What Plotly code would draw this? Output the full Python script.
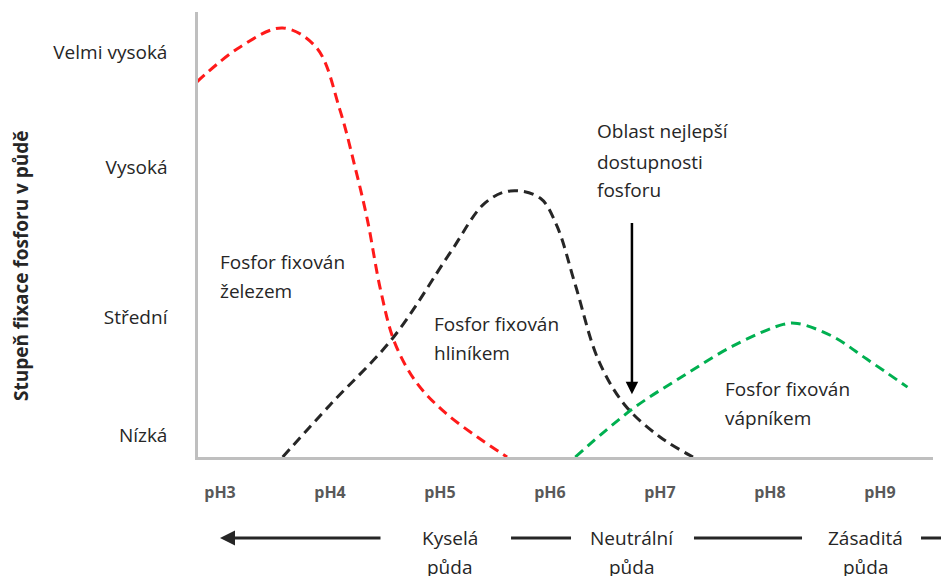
import plotly.graph_objects as go

# pH (x) and fixation level 0-100 (y)
iron_ph = [2.79, 3.18, 3.57, 3.88, 4.09, 4.23, 4.34, 4.46, 4.59, 4.79, 5.05, 5.34, 5.61]
iron_fix = [84.3, 92.1, 96.4, 91.9, 78.0, 64.9, 53.3, 37.5, 25.6, 16.6, 9.9, 4.5, 0.0]

alum_ph = [3.57, 4.00, 4.57, 5.09, 5.41, 5.64, 5.91, 6.06, 6.23, 6.44, 6.68, 7.00, 7.30]
alum_fix = [0.0, 11.7, 26.7, 45.8, 57.1, 59.8, 58.2, 52.1, 38.7, 21.8, 11.7, 4.5, 0.0]

calc_ph = [6.23, 6.75, 7.21, 7.66, 8.12, 8.25, 8.57, 8.88, 9.25]
calc_fix = [0.0, 10.8, 18.2, 24.9, 29.8, 30.0, 27.1, 22.0, 15.7]

ph_ticks = [3, 4, 5, 6, 7, 8, 9]
ph_labels = ["pH3", "pH4", "pH5", "pH6", "pH7", "pH8", "pH9"]

level_ticks = [4.9, 31.4, 65.0, 91.0]
level_labels = ["Nízká", "Střední", "Vysoká", "Velmi vysoká"]

# best availability arrow (pH, from level, to level)
best_ph = 6.745
best_from = 52.9
best_to = 14.1

FONT = "Open Sans"
TXT = "#262626"

fig = go.Figure()

for xs, ys, col in [(iron_ph, iron_fix, "#ff1a1a"),
                    (alum_ph, alum_fix, "#262626"),
                    (calc_ph, calc_fix, "#00b050")]:
    fig.add_trace(go.Scatter(
        x=xs, y=ys, mode="lines",
        line=dict(color=col, width=3, dash="10px,6px", shape="spline", smoothing=1.0),
        showlegend=False, hoverinfo="skip",
    ))

annotations = []

# labels inside the plot, one annotation per line to get the wide line spacing
inner_labels = [
    (2.982, 43.9, "Fosfor fixován"), (2.982, 37.2, "železem"),
    (4.927, 29.8, "Fosfor fixován"), (4.927, 23.3, "hliníkem"),
    (6.409, 73.3, "Oblast nejlepší"), (6.409, 66.4, "dostupnosti"), (6.409, 60.1, "fosforu"),
    (7.573, 15.2, "Fosfor fixován"), (7.573, 8.7, "vápníkem"),
]
for x, y, t in inner_labels:
    annotations.append(dict(x=x, y=y, xref="x", yref="y", text=t, showarrow=False,
                            xanchor="left", yanchor="middle",
                            font=dict(family=FONT, size=19, color=TXT)))

# vertical arrow
annotations.append(dict(x=best_ph, y=best_to, ax=best_ph, ay=best_from,
                        xref="x", yref="y", axref="x", ayref="y", text="",
                        showarrow=True, arrowhead=2, arrowsize=1, arrowwidth=2.5,
                        arrowcolor="black"))

# soil type labels under the axis
soil = [(5.09, "Kyselá"), (6.745, "Neutrální"), (8.87, "Zásaditá")]
for x, t in soil:
    annotations.append(dict(x=x, y=-0.182, xref="x", yref="paper", text=t, showarrow=False,
                            xanchor="center", yanchor="middle",
                            font=dict(family=FONT, size=19, color=TXT)))
    annotations.append(dict(x=x, y=-0.247, xref="x", yref="paper", text="půda", showarrow=False,
                            xanchor="center", yanchor="middle",
                            font=dict(family=FONT, size=19, color=TXT)))

# left pointing arrow
annotations.append(dict(x=3.0, y=-0.182, xref="x", yref="paper", ax=162, ay=0, text="",
                        showarrow=True, arrowhead=2, arrowsize=1, arrowwidth=3,
                        arrowcolor=TXT))

# y axis title
annotations.append(dict(x=-0.241, y=0.431, xref="paper", yref="paper",
                        text="<b>Stupeň fixace fosforu v půdě</b>", textangle=-90,
                        showarrow=False, xanchor="center", yanchor="middle",
                        font=dict(family=FONT, size=19, color=TXT)))

shapes = []
for x0, x1 in [(0.4259, 0.5075), (0.6748, 0.8218), (0.9837, 1.04)]:
    shapes.append(dict(type="line", xref="paper", yref="paper", x0=x0, x1=x1,
                       y0=-0.182, y1=-0.182, line=dict(color=TXT, width=3)))

# the page body adds an 8px offset, so the margins are trimmed by that amount
fig.update_layout(
    width=949, height=576,
    margin=dict(l=190, r=24, t=4, b=127),
    plot_bgcolor="white", paper_bgcolor="white",
    annotations=annotations, shapes=shapes,
    xaxis=dict(range=[2.8, 9.482], tickvals=ph_ticks, ticktext=ph_labels,
               showgrid=False, zeroline=False, showline=True, linecolor="#bfbfbf",
               linewidth=2.5, ticks="", ticklabelstandoff=19,
               tickfont=dict(family=FONT, size=16, color="#595959", weight="bold")),
    yaxis=dict(range=[0, 100], tickvals=level_ticks, ticktext=level_labels,
               showgrid=False, zeroline=False, showline=True, linecolor="#bfbfbf",
               linewidth=2.5, ticks="", ticklabelstandoff=24,
               tickfont=dict(family=FONT, size=19, color=TXT)),
)

fig.write_html("out.html")
